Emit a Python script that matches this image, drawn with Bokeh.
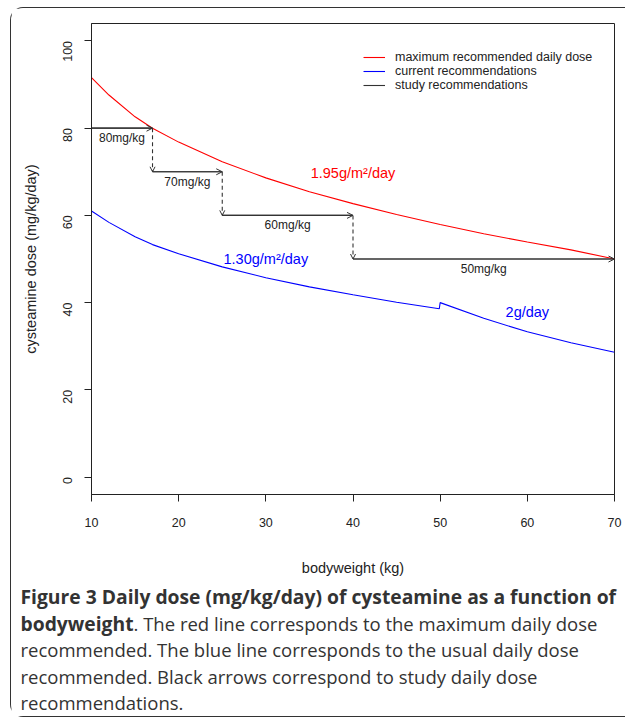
import math
from bokeh.plotting import figure
from bokeh.layouts import column
from bokeh.models import (Range1d, ColumnDataSource, Arrow, OpenHead,
                          Legend, LegendItem)
from bokeh.core.properties import value
from bokeh.embed import file_html
from bokeh.resources import INLINE

# ---------------- data ----------------
weights = [10, 12, 15, 17, 20, 25, 30, 35, 40, 45, 50, 55, 60, 65, 70]
max_dose = [91.6, 87.6, 82.6, 80.0, 76.8, 72.3, 68.6, 65.4, 62.7, 60.2,
            57.9, 55.8, 53.9, 52.1, 50.0]

cur_weights = [10, 12, 15, 17, 20, 25, 30, 35, 40, 45, 49.9, 50, 55, 60, 65, 70]
cur_dose = [61.0, 58.4, 55.1, 53.3, 51.2, 48.2, 45.7, 43.6, 41.8, 40.1,
            38.6, 40.0, 36.4, 33.3, 30.8, 28.6]

step_bounds = [10, 17, 25, 40, 70]
step_dose = [80, 70, 60, 50]
step_labels = ["80mg/kg", "70mg/kg", "60mg/kg", "50mg/kg"]

x_ticks = [10, 20, 30, 40, 50, 60, 70]
y_ticks = [0, 20, 40, 60, 80, 100]

legend_labels = ["maximum recommended daily dose", "current recommendations",
                 "study recommendations"]

caption_lines = [
    [("Figure 3 Daily dose (mg/kg/day) of cysteamine as a function of", "bold")],
    [("bodyweight", "bold"), (". The red line corresponds to the maximum daily dose", "normal")],
    [("recommended. The blue line corresponds to the usual daily dose", "normal")],
    [("recommended. Black arrows correspond to study daily dose", "normal")],
    [("recommendations.", "normal")],
]

# ---------------- layout ----------------
W = 614
H1, H2 = 572, 136
FL, FT, FW, FH = 80, 15, 523, 471
FONT = "Liberation Sans"
CAP_FONT = "Open Sans"
INK = "#222222"

p = figure(width=W, height=H1, output_backend="svg", toolbar_location=None,
           x_range=Range1d(10, 70), y_range=Range1d(-4, 104),
           min_border_left=FL, min_border_top=FT,
           min_border_right=W - FL - FW, min_border_bottom=H1 - FT - FH)
p.frame_align = False
p.background_fill_color = "white"
p.border_fill_color = "white"
p.outline_line_color = INK
p.outline_line_width = 1
p.grid.visible = False

for ax in (p.xaxis[0], p.yaxis[0]):
    ax.axis_line_color = INK
    ax.major_tick_line_color = INK
    ax.major_tick_out = 7
    ax.major_tick_in = 0
    ax.minor_tick_line_color = None
    ax.major_label_text_font = FONT
    ax.major_label_text_font_size = "12.5px"
    ax.major_label_text_color = INK
    ax.axis_label_text_font = FONT
    ax.axis_label_text_font_size = "14.5px"
    ax.axis_label_text_font_style = "normal"
    ax.axis_label_text_color = INK

p.xaxis.ticker = x_ticks
p.yaxis.ticker = y_ticks
p.xaxis.axis_label = "bodyweight (kg)"
p.yaxis.axis_label = "cysteamine dose (mg/kg/day)"
p.xaxis.major_label_standoff = 16
p.xaxis.axis_label_standoff = 30
p.yaxis.major_label_orientation = math.pi / 2
p.yaxis.major_label_standoff = 17
p.yaxis.axis_label_standoff = 17

# ---------------- curves ----------------
r_red = p.line(weights, max_dose, line_color="#ff0000", line_width=1.1)
r_blue = p.line(cur_weights, cur_dose, line_color="#0000ff", line_width=1.1)

# ---------------- study step arrows ----------------
hsrc = ColumnDataSource(dict(x0=step_bounds[:-1], x1=step_bounds[1:], y=step_dose))
r_steps = p.segment(x0="x0", y0="y", x1="x1", y1="y", source=hsrc,
                    line_color="#333333", line_width=1.1)
p.add_layout(Arrow(end=OpenHead(size=6, line_width=1, line_color="#333333"),
                   x_start="x0", y_start="y", x_end="x1", y_end="y", source=hsrc,
                   line_color="#333333", line_width=1.1))

vsrc = ColumnDataSource(dict(x=step_bounds[1:-1], y0=step_dose[:-1], y1=step_dose[1:]))
p.add_layout(Arrow(end=OpenHead(size=5, line_width=1, line_color="#333333"),
                   x_start="x", y_start="y0", x_end="x", y_end="y1", source=vsrc,
                   line_color="#333333", line_width=1.1, line_dash="4 3"))

lsrc = ColumnDataSource(dict(
    x=[(a + b) / 2 for a, b in zip(step_bounds[:-1], step_bounds[1:])],
    y=step_dose, t=step_labels))
p.text(x="x", y="y", text="t", source=lsrc, text_font=value(FONT),
       text_font_size="12px", text_align="center", text_baseline="top",
       y_offset=3, text_color=INK)

# curve labels
p.text(x=[40], y=[69.8], text=["1.95g/m²/day"], text_font=value(FONT),
       text_font_size="14.5px", text_align="center", text_baseline="middle",
       text_color="#ff0000")
p.text(x=[30], y=[50.0], text=["1.30g/m²/day"], text_font=value(FONT),
       text_font_size="14.5px", text_align="center", text_baseline="middle",
       text_color="#0000ff")
p.text(x=[60], y=[37.8], text=["2g/day"], text_font=value(FONT),
       text_font_size="14.5px", text_align="center", text_baseline="middle",
       text_color="#0000ff")

# ---------------- legend ----------------
legend = Legend(items=[LegendItem(label=legend_labels[0], renderers=[r_red]),
                       LegendItem(label=legend_labels[1], renderers=[r_blue]),
                       LegendItem(label=legend_labels[2], renderers=[r_steps])],
                location=(272, 402), border_line_color=None,
                background_fill_alpha=0, padding=5, spacing=0,
                glyph_width=22, glyph_height=14, label_height=14,
                label_standoff=10, label_text_font=FONT,
                label_text_font_size="12.5px", label_text_color=INK)
p.add_layout(legend)

# ---------------- caption panel ----------------
cap = figure(width=W, height=H2, output_backend="svg", toolbar_location=None,
             x_range=Range1d(0, W), y_range=Range1d(H2, 0),
             min_border=0, x_axis_location=None, y_axis_location=None)
cap.frame_align = False
cap.outline_line_color = None
cap.grid.visible = False
cap.background_fill_color = "white"
cap.border_fill_color = "white"

line_y = [16, 42.5, 69, 95.5, 122]
bold_word_width = 113
for ly, parts in zip(line_y, caption_lines):
    cx = 9
    for text, style in parts:
        cap.text(x=[cx], y=[ly], text=[text], text_font=value(CAP_FONT),
                 text_font_size="19.3px" if style == "bold" else "18.5px",
                 text_font_style=style,
                 text_color="#333333", text_baseline="middle", text_align="left")
        cx += bold_word_width

layout = column(p, cap, spacing=0, margin=(7, 0, 0, 10),
                styles={"border-left": "1px solid #333333",
                        "border-top": "1px solid #333333",
                        "border-bottom": "1px solid #333333",
                        "border-radius": "13px 0 0 13px"})

open("out.html", "w").write(file_html(layout, INLINE))
